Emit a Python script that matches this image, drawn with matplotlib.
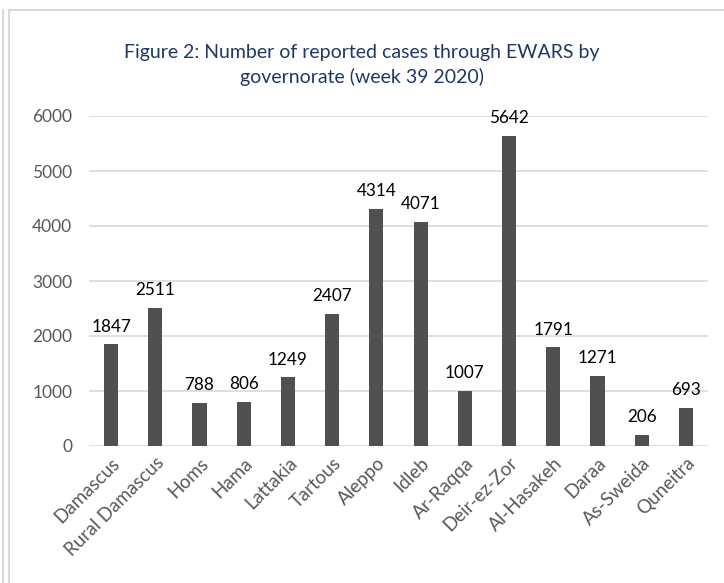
import matplotlib.pyplot as plt
from matplotlib.lines import Line2D

governorates = ["Damascus", "Rural Damascus", "Homs", "Hama", "Lattakia", "Tartous",
                "Aleppo", "Idleb", "Ar-Raqqa", "Deir-ez-Zor", "Al-Hasakeh", "Daraa",
                "As-Sweida", "Quneitra"]
cases = [1847, 2511, 788, 806, 1249, 2407, 4314, 4071, 1007, 5642, 1791, 1271, 206, 693]
y_ticks = [0, 1000, 2000, 3000, 4000, 5000, 6000]
title = "Figure 2: Number of reported cases through EWARS by\ngovernorate (week 39 2020)"

plt.rcParams['font.family'] = ['Lato', 'DejaVu Sans']

W, H = 724, 583
fig = plt.figure(figsize=(W / 100, H / 100), dpi=100)
ax = fig.add_axes([89 / W, 1 - 446 / H, (708 - 89) / W, (446 - 116) / H])

x = range(len(governorates))
ax.bar(x, cases, width=0.32, color="#505050", zorder=3)
for xi, v in zip(x, cases):
    ax.annotate(str(v), (xi, v), xytext=(0, 7), textcoords="offset points",
                ha="center", va="bottom", fontsize=12.3, color="#000000")

ax.set_xlim(-0.5, len(governorates) - 0.5)
ax.set_ylim(0, 6000)
ax.set_yticks(y_ticks)
ax.set_yticklabels([str(t) for t in y_ticks], fontsize=12.5, color="#595959")
ax.set_xticks(list(x))
ax.set_xticklabels(governorates, rotation=45, ha="right", rotation_mode="anchor",
                   fontsize=13.5, color="#595959")
ax.tick_params(axis="both", length=0, pad=12)
ax.tick_params(axis="x", pad=6)
ax.grid(axis="y", color="#d9d9d9", linewidth=1.2, zorder=0)
for s in ax.spines.values():
    s.set_visible(False)

fig.text(362 / W, 1 - 65 / H, title, ha="center", va="center", fontsize=14,
         color="#1f3864", linespacing=1.5)

# chart border lines
fig.add_artist(Line2D([9 / W, 9 / W], [0, 1 - 10 / H], color="#d9d9d9", lw=1.5))
fig.add_artist(Line2D([9 / W, 1], [1 - 10 / H, 1 - 10 / H], color="#d9d9d9", lw=1.5))
fig.add_artist(Line2D([3 / W, 3 / W], [0, 1 - 10 / H], color="#d9d9d9", lw=1.5))

fig.savefig("out.png", dpi=100)
